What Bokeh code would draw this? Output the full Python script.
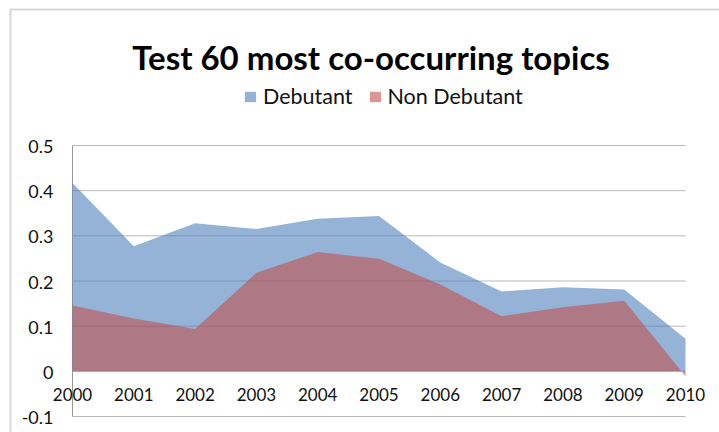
from bokeh.plotting import figure
from bokeh.models import Range1d, Legend, LegendItem, BoxAnnotation, Label
from bokeh.core.properties import value
from bokeh.embed import file_html
from bokeh.resources import INLINE

years = [2000, 2001, 2002, 2003, 2004, 2005, 2006, 2007, 2008, 2009, 2010]
debutant = [0.417, 0.277, 0.328, 0.315, 0.338, 0.344, 0.241, 0.177, 0.186, 0.181, 0.072]
non_debutant = [0.146, 0.117, 0.094, 0.218, 0.264, 0.249, 0.192, 0.122, 0.142, 0.156, -0.011]
y_ticks = [-0.1, 0, 0.1, 0.2, 0.3, 0.4, 0.5]
y_tick_labels = ["-0.1", "0", "0.1", "0.2", "0.3", "0.4", "0.5"]
year_labels = [str(y) for y in years]
title_text = "Test 60 most co-occurring topics"

FONT = "Lato"
W, H = 719, 432
# plot-area placement (pixels)
PX_LEFT, PX_RIGHT, PX_TOP, PX_BOTTOM = 72, 685, 145, 416
xs = (PX_RIGHT - PX_LEFT) / (years[-1] - years[0])
ys = (PX_BOTTOM - PX_TOP) / (y_ticks[-1] - y_ticks[0])
x_range = Range1d(years[0] - PX_LEFT / xs, years[-1] + (W - PX_RIGHT) / xs)
y_range = Range1d(y_ticks[0] - (H - PX_BOTTOM) / ys, y_ticks[-1] + PX_TOP / ys)

p = figure(width=W, height=H, output_backend="svg", toolbar_location=None,
           x_range=x_range, y_range=y_range,
           x_axis_location=None, y_axis_location=None, title=None,
           min_border=0, min_border_left=0, min_border_right=0,
           min_border_top=0, min_border_bottom=0)
p.outline_line_color = None
p.background_fill_color = "white"
p.border_fill_color = "white"
p.xgrid.visible = False
p.ygrid.visible = False

n = len(y_ticks)
# horizontal gridlines across the category span
p.segment(x0=[years[0]] * n, x1=[years[-1]] * n, y0=y_ticks, y1=y_ticks,
          line_color="#b8b8b8", line_width=1, level="underlay")
# vertical value axis line
p.segment(x0=[years[0]], x1=[years[0]], y0=[y_ticks[0]], y1=[y_ticks[-1]],
          line_color="#9a9a9a", line_width=1, level="underlay")

r1 = p.varea(x=years, y1=0, y2=debutant, fill_color="#4F81BD", fill_alpha=0.6)
r2 = p.varea(x=years, y1=0, y2=non_debutant, fill_color="#C0504D", fill_alpha=0.6)

# value-axis tick labels
p.text(x=[years[0]] * n, y=y_ticks, text=y_tick_labels, text_align="right",
       text_baseline="middle", x_offset=-19, y_offset=1, text_font=value(FONT),
       text_font_size="18px", text_color="#111111")
# category labels (axis crosses at 0)
p.text(x=years, y=[0] * len(years), text=year_labels, text_align="center",
       text_baseline="middle", y_offset=23, text_font=value(FONT),
       text_font_size="17px", text_color="#111111")

title = Label(x=370.5, y=H - 56.7, x_units="screen", y_units="screen",
              text=title_text, text_align="center", text_baseline="alphabetic",
              text_font=FONT, text_font_size="33px", text_font_style="bold",
              text_color="#000000")
p.add_layout(title)

legend = Legend(items=[LegendItem(label="Debutant", renderers=[r1]),
                       LegendItem(label="Non Debutant", renderers=[r2])],
                orientation="horizontal", location=(243, H - 109), padding=0, margin=0,
                spacing=15, label_standoff=6, glyph_width=14, glyph_height=13,
                label_height=20, label_text_font=FONT, label_text_font_size="21.5px",
                label_text_color="#111111",
                border_line_color=None, background_fill_alpha=0)
p.add_layout(legend)

border = BoxAnnotation(left=10, right=W + 20, top=H - 9, bottom=-20,
                       left_units="screen", right_units="screen",
                       top_units="screen", bottom_units="screen",
                       fill_alpha=0, fill_color=None,
                       line_color="#7a7a7a", line_width=2)
p.add_layout(border)

open("out.html", "w").write(file_html(p, INLINE))
